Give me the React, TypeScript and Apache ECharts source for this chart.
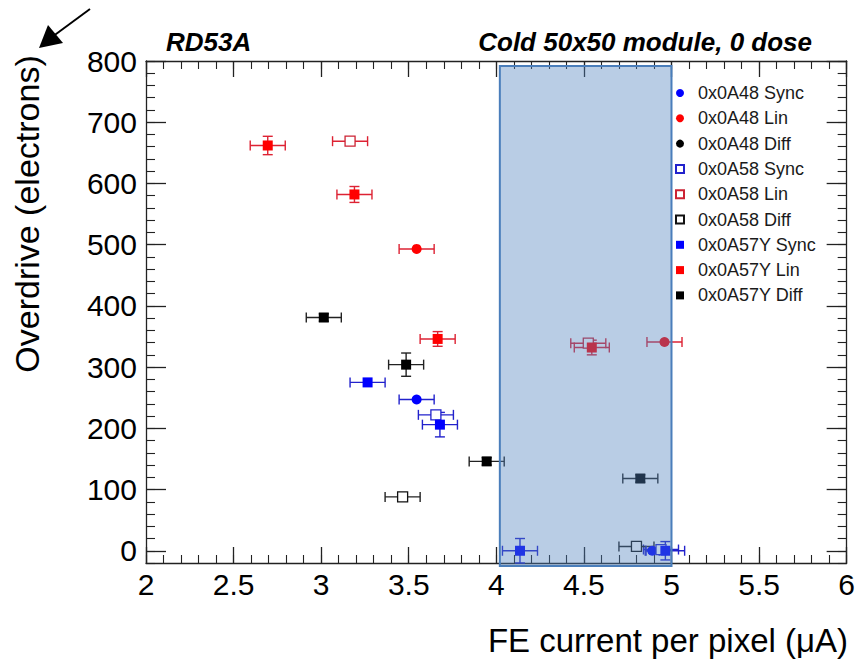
import React, { useEffect, useRef } from "react";
import * as echarts from "echarts";

// [x, y, xErr, yErr]
const sync48 = [[3.545, 247, 0.1, 0], [4.89, 0, 0.04, 0]];
const lin48 = [[3.545, 493, 0.1, 0], [4.96, 341, 0.1, 0]];
const diff48: number[][] = [];
const sync58 = [[3.655, 222, 0.1, 0], [4.94, 2, 0.1, 0]];
const lin58 = [[3.165, 669, 0.1, 0], [4.525, 339, 0.1, 0]];
const diff58 = [[3.465, 88, 0.1, 0], [4.8, 7, 0.1, 0]];
const sync57 = [[3.265, 275, 0.1, 0], [3.678, 206, 0.1, 20], [4.135, 0, 0.1, 20], [4.965, 0, 0.11, 15]];
const lin57 = [[2.695, 662, 0.1, 15], [3.19, 582, 0.1, 13], [3.665, 346, 0.1, 12], [4.545, 332, 0.1, 12]];
const diff57 = [[3.015, 381, 0.1, 6], [3.485, 304, 0.1, 19], [3.945, 146, 0.1, 6], [4.822, 118, 0.1, 6]];

const seriesNames = [
  "0x0A48 Sync", "0x0A48 Lin", "0x0A48 Diff",
  "0x0A58 Sync", "0x0A58 Lin", "0x0A58 Diff",
  "0x0A57Y Sync", "0x0A57Y Lin", "0x0A57Y Diff",
];
const yMajorTicks = [0, 100, 200, 300, 400, 500, 600, 700, 800];
// highlighted region [x0, x1, y0, y1]
const boxRange = [4.02, 5.0, -25, 792];

const FONT = "'Liberation Sans', Arial, Helvetica, sans-serif";

export default function App() {
  const ref = useRef<HTMLDivElement>(null);
  useEffect(() => {
    if (!ref.current) return;
    const chart = echarts.init(ref.current, null, { renderer: "svg" });

    const groups = [
      { name: seriesNames[0], data: sync48, symbol: "circle", color: "#0000ff", bar: "#2222cc", open: false },
      { name: seriesNames[1], data: lin48, symbol: "circle", color: "#ff0000", bar: "#dd2233", open: false },
      { name: seriesNames[2], data: diff48, symbol: "circle", color: "#000000", bar: "#222222", open: false },
      { name: seriesNames[3], data: sync58, symbol: "rect", color: "#2222cc", bar: "#2222cc", open: true },
      { name: seriesNames[4], data: lin58, symbol: "rect", color: "#cc2233", bar: "#dd2233", open: true },
      { name: seriesNames[5], data: diff58, symbol: "rect", color: "#111111", bar: "#222222", open: true },
      { name: seriesNames[6], data: sync57, symbol: "rect", color: "#0000ff", bar: "#2222cc", open: false },
      { name: seriesNames[7], data: lin57, symbol: "rect", color: "#ff0000", bar: "#dd2233", open: false },
      { name: seriesNames[8], data: diff57, symbol: "rect", color: "#000000", bar: "#222222", open: false },
    ];

    const errSeries = groups.map((g) => ({
      type: "custom",
      name: "err " + g.name,
      z: 2,
      data: g.data,
      encode: { x: 0, y: 1 },
      renderItem: (params: any, api: any) => {
        const x = api.value(0), y = api.value(1), ex = api.value(2), ey = api.value(3);
        const l = api.coord([x - ex, y]);
        const r = api.coord([x + ex, y]);
        const st = { stroke: g.bar, lineWidth: 1.4 };
        const cap = 5;
        const children: any[] = [
          { type: "line", shape: { x1: l[0], y1: l[1], x2: r[0], y2: r[1] }, style: st },
          { type: "line", shape: { x1: l[0], y1: l[1] - cap, x2: l[0], y2: l[1] + cap }, style: st },
          { type: "line", shape: { x1: r[0], y1: r[1] - cap, x2: r[0], y2: r[1] + cap }, style: st },
        ];
        if (ey > 0) {
          const t = api.coord([x, y + ey]);
          const b = api.coord([x, y - ey]);
          children.push(
            { type: "line", shape: { x1: t[0], y1: t[1], x2: b[0], y2: b[1] }, style: st },
            { type: "line", shape: { x1: t[0] - cap, y1: t[1], x2: t[0] + cap, y2: t[1] }, style: st },
            { type: "line", shape: { x1: b[0] - cap, y1: b[1], x2: b[0] + cap, y2: b[1] }, style: st }
          );
        }
        return { type: "group", children };
      },
    }));

    const markerSeries = groups.map((g) => ({
      type: "scatter",
      name: g.name,
      z: 3,
      symbol: g.symbol,
      symbolSize: 10,
      data: g.data.map((d) => [d[0], d[1]]),
      itemStyle: g.open
        ? { color: "#ffffff", borderColor: g.color, borderWidth: 1.3, opacity: 1 }
        : { color: g.color, opacity: 1 },
    }));

    const boxSeries = {
      type: "custom",
      name: "box",
      z: 10,
      silent: true,
      clip: false,
      data: [boxRange],
      renderItem: (params: any, api: any) => {
        const p0 = api.coord([api.value(0), api.value(3)]);
        const p1 = api.coord([api.value(1), api.value(2)]);
        return {
          type: "rect",
          shape: { x: p0[0], y: p0[1], width: p1[0] - p0[0], height: p1[1] - p0[1] },
          style: { fill: "rgba(79,129,189,0.4)", stroke: "#4a7ebb", lineWidth: 2 },
        };
      },
    };

    const frameLine = { show: true, onZero: false, lineStyle: { color: "#222", width: 1.3 } };
    const noLine = { show: false, onZero: false };
    const noLabel = { show: false };
    const noSplit = { show: false };

    const option: any = {
      animation: false,
      textStyle: { fontFamily: FONT },
      grid: { left: 146, right: 8, top: 61, bottom: 100, containLabel: false },
      title: [
        {
          text: "RD53A", left: 166, top: 29, padding: 0,
          textStyle: { fontFamily: FONT, fontSize: 26, fontStyle: "italic", fontWeight: "bold", color: "#000" },
        },
        {
          text: "Cold 50x50 module, 0 dose", right: 46, top: 29, padding: 0,
          textStyle: { fontFamily: FONT, fontSize: 26, fontStyle: "italic", fontWeight: "bold", color: "#000" },
        },
      ],
      legend: {
        data: seriesNames,
        orient: "vertical",
        left: 675,
        top: 84,
        padding: 0,
        itemWidth: 8,
        itemHeight: 8,
        itemGap: 7.3,
        selectedMode: false,
        textStyle: { fontFamily: FONT, fontSize: 18, color: "#1a1a1a", lineHeight: 18, padding: [0, 0, 0, 9] },
      },
      xAxis: [
        {
          type: "value", position: "bottom", min: 2, max: 6, interval: 0.5,
          axisLine: frameLine,
          axisTick: { show: true, inside: true, length: 16, lineStyle: { color: "#222", width: 1.3 } },
          axisLabel: { show: true, fontSize: 30, color: "#000", margin: 6, fontFamily: FONT },
          splitLine: noSplit,
        },
        {
          type: "value", position: "bottom", min: 2, max: 6, interval: 0.1,
          axisLine: noLine,
          axisTick: { show: true, inside: true, length: 8, lineStyle: { color: "#222", width: 1.1 } },
          axisLabel: noLabel, splitLine: noSplit,
        },
        {
          type: "value", position: "top", min: 2, max: 6, interval: 0.5,
          axisLine: frameLine,
          axisTick: { show: true, inside: true, length: 16, lineStyle: { color: "#222", width: 1.3 } },
          axisLabel: noLabel, splitLine: noSplit,
        },
        {
          type: "value", position: "top", min: 2, max: 6, interval: 0.1,
          axisLine: noLine,
          axisTick: { show: true, inside: true, length: 8, lineStyle: { color: "#222", width: 1.1 } },
          axisLabel: noLabel, splitLine: noSplit,
        },
      ],
      yAxis: [
        {
          type: "value", position: "left", min: -20, max: 800,
          axisLine: frameLine,
          axisTick: { show: true, inside: true, length: 20, customValues: yMajorTicks, lineStyle: { color: "#222", width: 1.3 } },
          axisLabel: { show: true, fontSize: 30, color: "#000", margin: 9, fontFamily: FONT, customValues: yMajorTicks },
          splitLine: noSplit,
        },
        {
          type: "value", position: "left", min: -20, max: 800, interval: 20,
          axisLine: noLine,
          axisTick: { show: true, inside: true, length: 9, lineStyle: { color: "#222", width: 1.1 } },
          axisLabel: noLabel, splitLine: noSplit,
        },
        {
          type: "value", position: "right", min: -20, max: 800,
          axisLine: frameLine,
          axisTick: { show: true, inside: true, length: 20, customValues: yMajorTicks, lineStyle: { color: "#222", width: 1.3 } },
          axisLabel: noLabel, splitLine: noSplit,
        },
        {
          type: "value", position: "right", min: -20, max: 800, interval: 20,
          axisLine: noLine,
          axisTick: { show: true, inside: true, length: 9, lineStyle: { color: "#222", width: 1.1 } },
          axisLabel: noLabel, splitLine: noSplit,
        },
      ],
      graphic: [
        {
          type: "text", x: 27, y: 214, rotation: Math.PI / 2,
          style: { text: "Overdrive (electrons)", fontSize: 34, fontFamily: FONT, fill: "#000", align: "center", verticalAlign: "middle" },
        },
        {
          type: "text", x: 848, y: 640,
          style: { text: "FE current per pixel (μA)", fontSize: 33, fontFamily: FONT, fill: "#000", align: "right", verticalAlign: "middle" },
        },
        {
          type: "line", shape: { x1: 90, y1: 9, x2: 52, y2: 37 },
          style: { stroke: "#000", lineWidth: 2 },
        },
        {
          type: "polygon", shape: { points: [[39, 48], [48, 25], [63, 43]] },
          style: { fill: "#000" },
        },
      ],
      series: [...errSeries, ...markerSeries, boxSeries],
    };

    chart.setOption(option);
    return () => chart.dispose();
  }, []);

  return (
    <div
      ref={ref}
      style={{ position: "fixed", left: 0, top: 0, width: 858, height: 663, background: "#fff" }}
    />
  );
}
